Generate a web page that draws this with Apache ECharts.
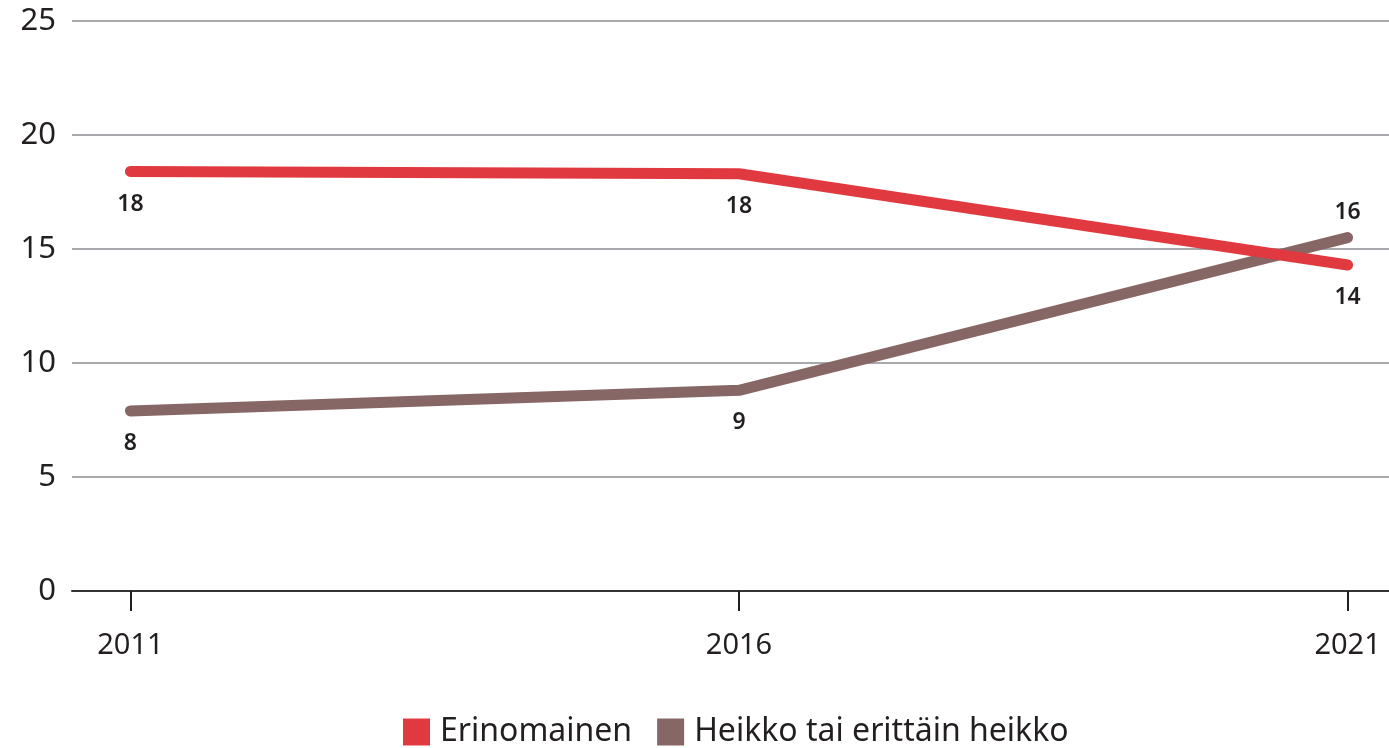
<!DOCTYPE html>
<html>
<head>
<meta charset="utf-8">
<script src="https://cdn.jsdelivr.net/npm/echarts@6/dist/echarts.min.js"></script>
<style>html,body{margin:0;padding:0;background:#fff}#c{width:1389px;height:748px}</style>
</head>
<body>
<div id="c"></div>
<script>
const years = [2011, 2016, 2021];
const seriesNames = ['Erinomainen', 'Heikko tai erittäin heikko'];
const erinomainen = [18.4, 18.3, 14.3];
const heikko = [7.9, 8.8, 15.5];
const yTicks = [0, 5, 10, 15, 20, 25];

const FONT = '"Noto Sans", "Open Sans", sans-serif';
const labelBase = {
  show: true, position: 'bottom', distance: 21,
  fontSize: 23, fontWeight: 600, color: '#231f20', fontFamily: FONT,
  formatter: p => String(Math.round(p.value[1]))
};
function build(vals, topIdx) {
  return vals.map((v, i) => {
    const item = { value: [years[i], v] };
    if (i === topIdx) item.label = { position: 'top', distance: 14 };
    return item;
  });
}
const chart = echarts.init(document.getElementById('c'));
chart.setOption({
  animation: false,
  grid: { left: 72, right: 0, top: 21, bottom: 157, containLabel: false },
  legend: {
    top: 711, left: 398, icon: 'rect', itemWidth: 27, itemHeight: 27, itemGap: 25,
    textStyle: { fontSize: 32, color: '#231f20', fontFamily: FONT, padding: [0, 0, 0, 5] },
    data: seriesNames
  },
  xAxis: {
    type: 'value', min: 2010.52, max: 2021.34,
    axisLine: { show: true, lineStyle: { color: '#333', width: 2 } },
    axisTick: { show: true, customValues: years, length: 20, lineStyle: { color: '#231f20', width: 2 } },
    axisLabel: { customValues: years, margin: 40, fontSize: 29, color: '#231f20', fontFamily: FONT, formatter: v => String(v) },
    splitLine: { show: false }
  },
  yAxis: {
    type: 'value', min: yTicks[0], max: yTicks[yTicks.length - 1], interval: 5,
    axisLine: { show: false }, axisTick: { show: false },
    axisLabel: { margin: 16, fontSize: 31, color: '#231f20', fontFamily: FONT },
    splitLine: { lineStyle: { color: '#a7a9ac', width: 2 } }
  },
  series: [
    {
      name: seriesNames[0], type: 'line', data: build(erinomainen, -1),
      symbol: 'circle', symbolSize: 0, showSymbol: true, color: '#e03a40',
      lineStyle: { width: 11, cap: 'round', join: 'round' },
      label: labelBase, z: 3
    },
    {
      name: seriesNames[1], type: 'line', data: build(heikko, 2),
      symbol: 'circle', symbolSize: 0, showSymbol: true, color: '#876666',
      lineStyle: { width: 11, cap: 'round', join: 'round' },
      label: labelBase, z: 2
    }
  ]
});
</script>
</body>
</html>
